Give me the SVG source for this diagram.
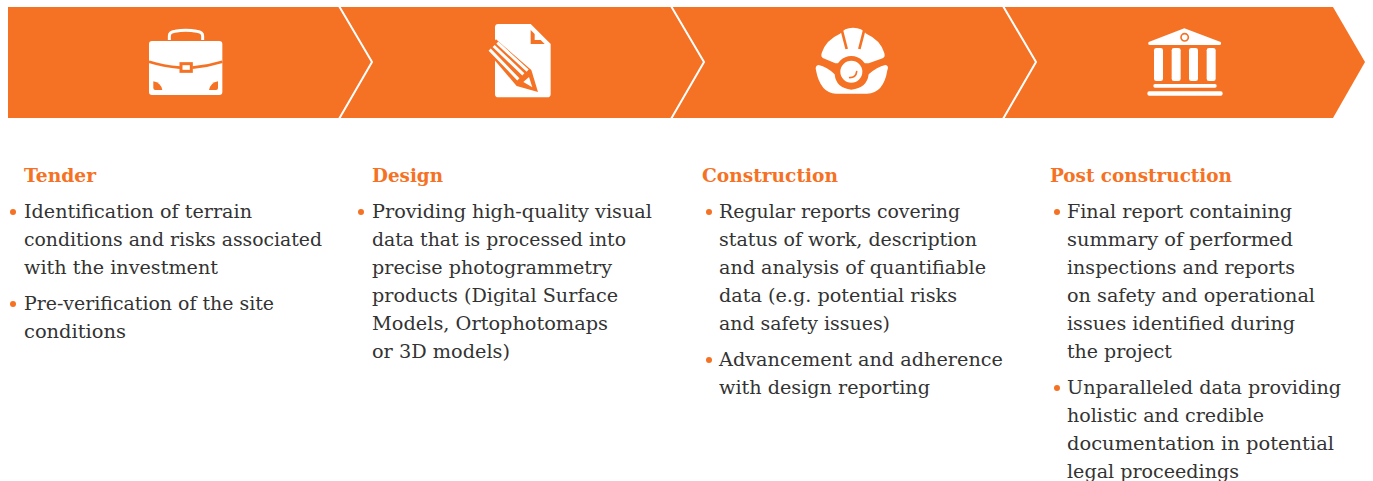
<svg xmlns="http://www.w3.org/2000/svg" width="1373" height="481" viewBox="0 0 1373 481">
<style>
text{font-family:"DejaVu Serif","Liberation Serif",serif}
.t{font-size:19px;font-weight:700;fill:#f57224}
.b{font-size:19px;fill:#333333}
.d{fill:#f57224}
.w{fill:#ffffff}
.o{fill:#f57224}
.os{fill:none;stroke:#f57224}
.sep{fill:none;stroke:#ffffff;stroke-width:2}
</style>
<rect width="1373" height="481" fill="#ffffff"/>
<g id="banner">
<polygon class="o" points="8,7 1333,7 1365,62 1333,118 8,118"/>
</g>
<g id="connectors">
<polyline class="sep" points="339,6 372,62 339,119"/>
<polyline class="sep" points="671,6 704,62 671,119"/>
<polyline class="sep" points="1003,6 1036,62 1003,119"/>
</g>
<g id="icon-tender" transform="translate(130,10) scale(.33333)">
<path d="M118,90V78Q118,66 135,64Q167,58 200,64Q218,66 218,78V90" fill="none" stroke="#fff" stroke-width="9"/>
<rect class="w" x="57" y="93" width="220" height="162" rx="9"/>
<path class="os" stroke-width="8" d="M57,155Q100,168 150,173M187,173Q235,168 277,155"/>
<rect class="w" x="153" y="161" width="31" height="23" stroke="#f57224" stroke-width="9"/>
<path class="o" d="M70,214Q92,218 97,240H76Q70,240 70,234Z"/>
<path class="o" d="M264,214Q242,218 237,240H258Q264,240 264,234Z"/>
</g>
<g id="icon-design" transform="translate(484,20) scale(.33333)">
<path class="w" d="M43,12H140L200,72V222Q200,232 190,232H43Q33,232 33,222V22Q33,12 43,12Z"/>
<polygon class="o" points="140,30 152,42 152,60 170,60 182,72 140,72"/>
<polygon class="o" points="6,90 36,58 142,150 162,216 98,198"/>
<path stroke="#fff" stroke-width="9" fill="none" d="M17,89L103,178M29,78L118,163M40,68L131,152"/>
<polygon class="w" points="118,186 135,171 145,202"/>
</g>
<g id="icon-construction" transform="translate(812,25) scale(.33333)">
<path class="w" d="M30,82Q42,45 84,26Q97,8 123,8Q150,8 163,26Q205,45 216,82Q222,96 212,100L170,115H70L34,100Q24,96 30,82Z"/>
<path class="os" stroke-width="8" d="M89,14L104,72M157,14L142,72"/>
<path class="w" d="M20,120Q45,125 68,148Q72,190 118,194Q165,190 170,148Q195,125 220,120Q232,122 226,136Q215,205 165,206H72Q25,205 12,136Q8,122 20,120Z"/>
<circle class="w" cx="118" cy="140" r="40" stroke="#f57224" stroke-width="14"/>
<path class="os" stroke-width="5" stroke-linecap="round" d="M113,158Q132,158 134,140"/>
</g>
<g id="icon-post-construction" transform="translate(1130,10) scale(.33333)">
<path class="w" d="M163,55L272,96Q276,105 268,105H60Q52,105 56,96Z"/>
<circle class="w" cx="164" cy="82" r="11" stroke="#f57224" stroke-width="5"/>
<rect class="w" x="72" y="114" width="27" height="99" rx="7"/>
<rect class="w" x="125" y="114" width="27" height="99" rx="7"/>
<rect class="w" x="177" y="114" width="27" height="99" rx="7"/>
<rect class="w" x="230" y="114" width="27" height="99" rx="7"/>
<rect class="w" x="70" y="222" width="190" height="11" rx="5"/>
<rect class="w" x="52" y="244" width="226" height="13" rx="6"/>
</g>
<g id="tender">
<text class="t" x="24" y="182" textLength="72" lengthAdjust="spacingAndGlyphs">Tender</text>
<circle class="d" cx="13" cy="212" r="3"/>
<text class="b" x="24" y="218" textLength="228" lengthAdjust="spacingAndGlyphs">Identification of terrain</text>
<text class="b" x="24" y="246" textLength="298" lengthAdjust="spacingAndGlyphs">conditions and risks associated</text>
<text class="b" x="24" y="274" textLength="194" lengthAdjust="spacingAndGlyphs">with the investment</text>
<circle class="d" cx="13" cy="304" r="3"/>
<text class="b" x="24" y="310" textLength="250" lengthAdjust="spacingAndGlyphs">Pre-verification of the site</text>
<text class="b" x="24" y="338" textLength="102" lengthAdjust="spacingAndGlyphs">conditions</text>
</g>
<g id="design">
<text class="t" x="372" y="182" textLength="71" lengthAdjust="spacingAndGlyphs">Design</text>
<circle class="d" cx="361" cy="212" r="3"/>
<text class="b" x="372" y="218" textLength="280" lengthAdjust="spacingAndGlyphs">Providing high-quality visual</text>
<text class="b" x="372" y="246" textLength="254" lengthAdjust="spacingAndGlyphs">data that is processed into</text>
<text class="b" x="372" y="274" textLength="240" lengthAdjust="spacingAndGlyphs">precise photogrammetry</text>
<text class="b" x="372" y="302" textLength="246" lengthAdjust="spacingAndGlyphs">products (Digital Surface</text>
<text class="b" x="372" y="330" textLength="236" lengthAdjust="spacingAndGlyphs">Models, Ortophotomaps</text>
<text class="b" x="372" y="358" textLength="138" lengthAdjust="spacingAndGlyphs">or 3D models)</text>
</g>
<g id="construction">
<text class="t" x="702" y="182" textLength="136" lengthAdjust="spacingAndGlyphs">Construction</text>
<circle class="d" cx="709" cy="212" r="3"/>
<text class="b" x="719" y="218" textLength="241" lengthAdjust="spacingAndGlyphs">Regular reports covering</text>
<text class="b" x="719" y="246" textLength="258" lengthAdjust="spacingAndGlyphs">status of work, description</text>
<text class="b" x="719" y="274" textLength="267" lengthAdjust="spacingAndGlyphs">and analysis of quantifiable</text>
<text class="b" x="719" y="302" textLength="238" lengthAdjust="spacingAndGlyphs">data (e.g. potential risks</text>
<text class="b" x="719" y="330" textLength="171" lengthAdjust="spacingAndGlyphs">and safety issues)</text>
<circle class="d" cx="709" cy="360" r="3"/>
<text class="b" x="719" y="366" textLength="284" lengthAdjust="spacingAndGlyphs">Advancement and adherence</text>
<text class="b" x="719" y="394" textLength="211" lengthAdjust="spacingAndGlyphs">with design reporting</text>
</g>
<g id="post-construction">
<text class="t" x="1050" y="182" textLength="182" lengthAdjust="spacingAndGlyphs">Post construction</text>
<circle class="d" cx="1057" cy="212" r="3"/>
<text class="b" x="1067" y="218" textLength="225" lengthAdjust="spacingAndGlyphs">Final report containing</text>
<text class="b" x="1067" y="246" textLength="226" lengthAdjust="spacingAndGlyphs">summary of performed</text>
<text class="b" x="1067" y="274" textLength="228" lengthAdjust="spacingAndGlyphs">inspections and reports</text>
<text class="b" x="1067" y="302" textLength="248" lengthAdjust="spacingAndGlyphs">on safety and operational</text>
<text class="b" x="1067" y="330" textLength="228" lengthAdjust="spacingAndGlyphs">issues identified during</text>
<text class="b" x="1067" y="358" textLength="105" lengthAdjust="spacingAndGlyphs">the project</text>
<circle class="d" cx="1057" cy="388" r="3"/>
<text class="b" x="1067" y="394" textLength="274" lengthAdjust="spacingAndGlyphs">Unparalleled data providing</text>
<text class="b" x="1067" y="422" textLength="197" lengthAdjust="spacingAndGlyphs">holistic and credible</text>
<text class="b" x="1067" y="450" textLength="267" lengthAdjust="spacingAndGlyphs">documentation in potential</text>
<text class="b" x="1067" y="478" textLength="172" lengthAdjust="spacingAndGlyphs">legal proceedings</text>
</g>
</svg>
